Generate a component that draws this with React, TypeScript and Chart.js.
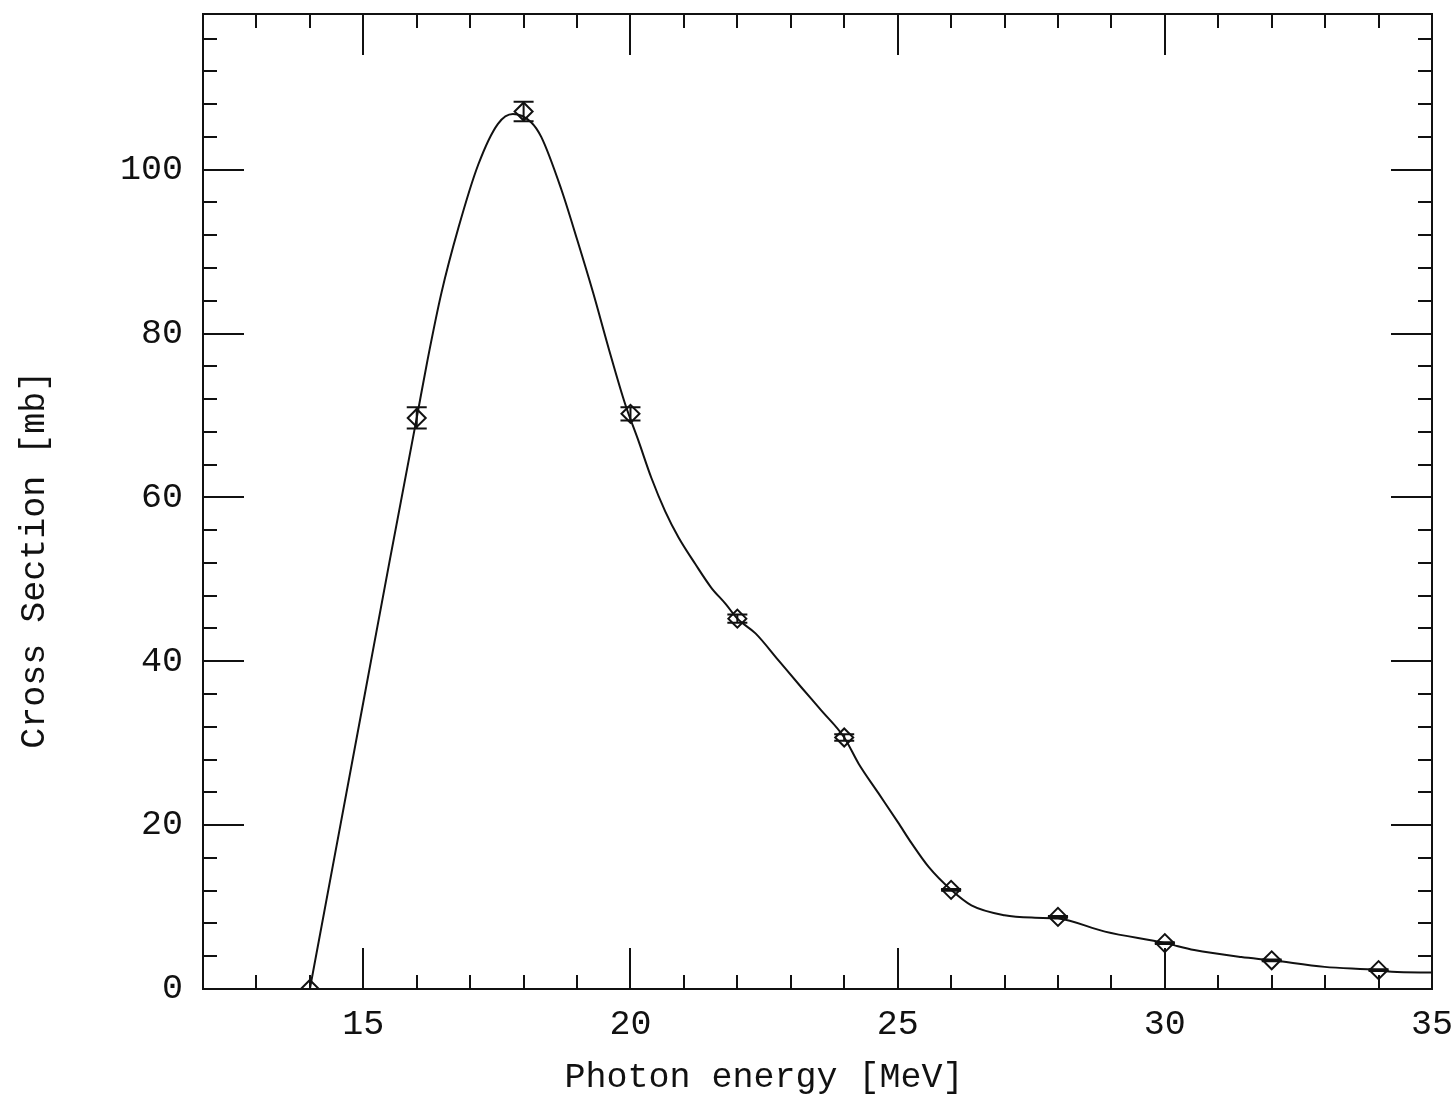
import { useEffect, useRef } from 'react';
import { Chart, registerables } from 'chart.js';

Chart.register(...registerables);

// Measured points (diamonds) with error bars
const pointEnergy = [14, 16, 18, 20, 22, 24, 26, 28, 30, 32, 34];
const pointValue = [0, 69.7, 107.1, 70.2, 45.2, 30.7, 12.1, 8.8, 5.6, 3.5, 2.3];
const pointError = [0, 1.3, 1.2, 0.8, 0.5, 0.4, 0.1, 0.1, 0.1, 0.1, 0.1];

// Smooth curve
const curveEnergy = [
  14.0, 14.5, 15.0, 15.5, 16.0, 16.2, 16.46, 16.78, 17.15, 17.52, 17.8,
  18.14, 18.33, 18.7, 19.0, 19.3, 19.6, 19.9, 20.15, 20.39, 20.65, 20.9, 21.21, 21.51,
  21.78, 22.0, 22.34, 22.77, 23.2, 23.57, 24.0, 24.27, 24.64, 25.01, 25.26, 25.58, 26.0,
  26.38, 27.0, 27.57, 28.0, 28.88, 30.0, 30.55, 31.43, 32.0, 32.99, 34.0, 34.25, 35.0,
];
const curveValue = [
  0, 17.5, 35.0, 52.5, 69.7, 76.7, 84.9, 92.9, 100.6, 105.6, 106.8,
  105.8, 104.0, 97.7, 91.5, 85.0, 78.0, 71.4, 66.9, 62.4, 58.3, 55.1, 51.9, 49.0,
  47.0, 45.2, 43.4, 40.1, 36.8, 34.0, 30.7, 27.5, 23.9, 20.3, 17.8, 14.9, 12.1,
  10.2, 9.0, 8.7, 8.6, 7.0, 5.6, 4.75, 3.9, 3.5, 2.7, 2.3, 2.1, 2.0,
];

// Axes
const xMin = 12;
const xMax = 35;
const yMin = 0;
const yMax = 119;
const xTickLabels = [15, 20, 25, 30, 35];
const yTickLabels = [0, 20, 40, 60, 80, 100];
const xMinorStep = 1;
const yMinorStep = 4;

const xTitle = 'Photon energy [MeV]';
const yTitle = 'Cross Section [mb]';

const INK = '#111';
const FONT = '"Liberation Mono", "DejaVu Sans Mono", monospace';

const decorPlugin = {
  id: 'decor',
  afterDatasetsDraw(chart: any) {
    const { ctx, chartArea } = chart;
    const xs = chart.scales.x;
    const ys = chart.scales.y;
    ctx.save();
    ctx.beginPath();
    ctx.rect(chartArea.left, chartArea.top, chartArea.right - chartArea.left, chartArea.bottom - chartArea.top);
    ctx.clip();
    ctx.strokeStyle = INK;
    ctx.lineWidth = 2;
    const cap = 10;
    pointEnergy.forEach((e, i) => {
      const err = pointError[i];
      if (err <= 0) return;
      const px = xs.getPixelForValue(e);
      const yTop = ys.getPixelForValue(pointValue[i] + err);
      const yBot = ys.getPixelForValue(pointValue[i] - err);
      ctx.beginPath();
      ctx.moveTo(px, yTop);
      ctx.lineTo(px, yBot);
      ctx.moveTo(px - cap, yTop);
      ctx.lineTo(px + cap, yTop);
      ctx.moveTo(px - cap, yBot);
      ctx.lineTo(px + cap, yBot);
      ctx.stroke();
    });
    ctx.restore();
  },
  afterDraw(chart: any) {
    const { ctx, chartArea } = chart;
    const { left, right, top, bottom } = chartArea;
    const xs = chart.scales.x;
    const ys = chart.scales.y;
    ctx.save();
    ctx.strokeStyle = INK;
    ctx.lineWidth = 2;
    ctx.strokeRect(left, top, right - left, bottom - top);

    const major = 41;
    const minor = 14;
    ctx.beginPath();
    for (let v = xMin + xMinorStep; v < xMax - 1e-6; v += xMinorStep) {
      const isMajor = xTickLabels.includes(Math.round(v));
      const len = isMajor ? major : minor;
      const px = Math.round(xs.getPixelForValue(v));
      ctx.moveTo(px, bottom);
      ctx.lineTo(px, bottom - len);
      ctx.moveTo(px, top);
      ctx.lineTo(px, top + len);
    }
    for (let v = yMin + yMinorStep; v < yMax - 1e-6; v += yMinorStep) {
      const isMajor = yTickLabels.includes(Math.round(v));
      const len = isMajor ? major : minor;
      const py = Math.round(ys.getPixelForValue(v));
      ctx.moveTo(left, py);
      ctx.lineTo(left + len, py);
      ctx.moveTo(right, py);
      ctx.lineTo(right - len, py);
    }
    ctx.stroke();

    // Axis titles
    ctx.fillStyle = INK;
    ctx.font = `35px ${FONT}`;
    ctx.textAlign = 'center';
    ctx.textBaseline = 'middle';
    ctx.fillText(xTitle, xs.getPixelForValue(22.5), bottom + 89);
    ctx.translate(35, ys.getPixelForValue(52.4));
    ctx.rotate(-Math.PI / 2);
    ctx.fillText(yTitle, 0, 0);
    ctx.restore();
  },
};

export default function App() {
  const canvasRef = useRef<HTMLCanvasElement | null>(null);

  useEffect(() => {
    const canvas = canvasRef.current;
    if (!canvas) return;
    const chart = new Chart(canvas, {
      type: 'scatter',
      data: {
        datasets: [
          {
            type: 'line',
            data: curveEnergy.map((x, i) => ({ x, y: curveValue[i] })),
            borderColor: INK,
            borderWidth: 2,
            pointRadius: 0,
            fill: false,
            cubicInterpolationMode: 'monotone',
            order: 1,
          } as any,
          {
            type: 'scatter',
            data: pointEnergy.map((x, i) => ({ x, y: pointValue[i] })),
            pointStyle: 'rectRot',
            pointRadius: 9,
            borderColor: INK,
            borderWidth: 2,
            backgroundColor: 'rgba(0,0,0,0)',
            order: 0,
          } as any,
        ],
      },
      options: {
        responsive: false,
        animation: false,
        devicePixelRatio: 1,
        layout: { padding: { top: 14, right: 22, left: 0, bottom: 0 } },
        plugins: {
          legend: { display: false },
          tooltip: { enabled: false },
        },
        scales: {
          x: {
            type: 'linear',
            min: xMin,
            max: xMax,
            afterBuildTicks: (s: any) => {
              s.ticks = xTickLabels.map((v) => ({ value: v }));
            },
            afterFit: (s: any) => {
              s.height = 111;
              s.paddingLeft = 0;
              s.paddingRight = 0;
              s.paddingTop = 0;
              s.paddingBottom = 0;
            },
            grid: { display: false, drawTicks: false },
            border: { display: false },
            ticks: {
              padding: 15,
              autoSkip: false,
              maxRotation: 0,
              color: INK,
              font: { family: FONT, size: 35 },
            },
          },
          y: {
            type: 'linear',
            min: yMin,
            max: yMax,
            afterBuildTicks: (s: any) => {
              s.ticks = yTickLabels.map((v) => ({ value: v }));
            },
            afterFit: (s: any) => {
              s.width = 203;
              s.paddingLeft = 0;
              s.paddingRight = 0;
              s.paddingTop = 0;
              s.paddingBottom = 0;
            },
            grid: { display: false, drawTicks: false },
            border: { display: false },
            ticks: {
              padding: 20,
              autoSkip: false,
              color: INK,
              font: { family: FONT, size: 35 },
            },
          },
        },
      },
      plugins: [decorPlugin],
    });
    return () => chart.destroy();
  }, []);

  return (
    <div style={{ position: 'fixed', left: 0, top: 0, width: 1454, height: 1100, background: '#fff' }}>
      <canvas ref={canvasRef} width={1454} height={1100} style={{ width: 1454, height: 1100, display: 'block' }} />
    </div>
  );
}
